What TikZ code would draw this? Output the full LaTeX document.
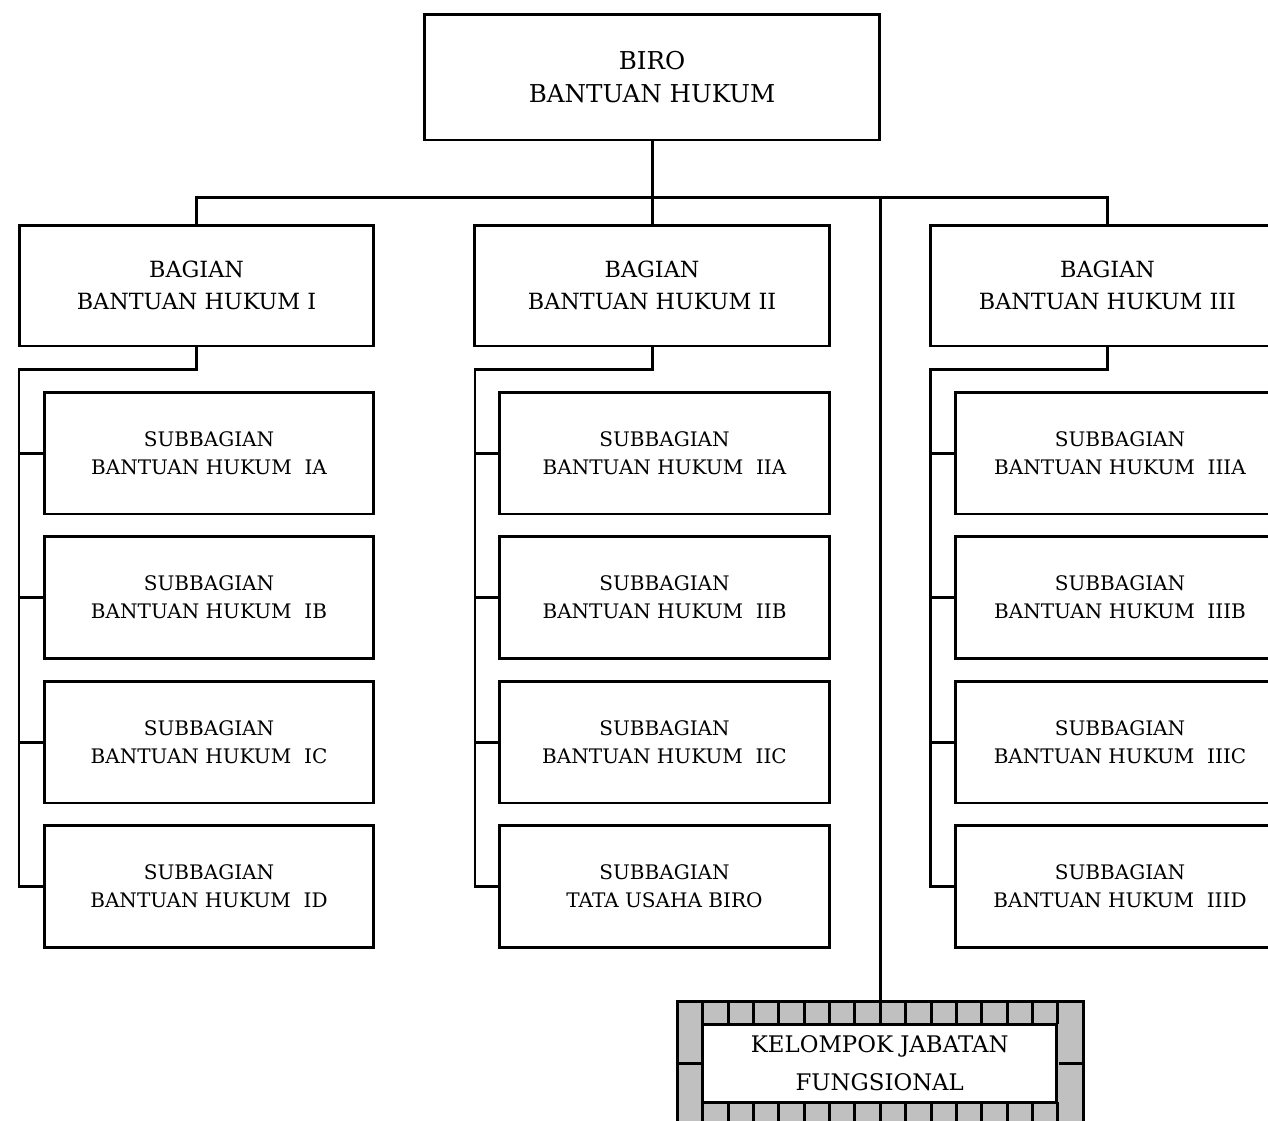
\documentclass[tikz,border=0pt]{standalone}
\usepackage{fontspec}
\setmainfont{DejaVu Serif}
\definecolor{bata}{HTML}{C0C0C0}
\tikzset{
  unitbox/.style={draw, line width=1.7pt, fill=white, align=center, inner sep=0pt},
  birobox/.style={unitbox, minimum width=9.1cm, minimum height=2.52cm, font=\fontsize{14}{18.8}\selectfont},
  bagbox/.style={unitbox, minimum width=7.1cm, minimum height=2.42cm, font=\fontsize{12.7}{18.2}\selectfont},
  subbox/.style={unitbox, minimum width=6.6cm, minimum height=2.44cm, font=\fontsize{11.4}{15.9}\selectfont},
  jabfrm/.style={draw, line width=1.7pt, fill=bata, minimum width=8.12cm, minimum height=2.48cm, inner sep=0pt},
  jabbox/.style={unitbox, minimum width=7.08cm, minimum height=1.56cm, font=\fontsize{13}{21.6}\selectfont},
  link/.style={line width=1.7pt}
}

\begin{document}
\begin{tikzpicture}[x=0.02cm,y=-0.02cm]
	%%%%% START %%%%%
	\useasboundingbox (0,0) rectangle (1268,1120);

	\node[birobox] (biro) at (652,77) {BIRO\\BANTUAN HUKUM};

	\node[bagbox] (bagA) at (196.5,285.5) {BAGIAN\\BANTUAN HUKUM I};
	\node[bagbox] (bagB) at (652,285.5) {BAGIAN\\BANTUAN HUKUM II};
	\node[bagbox] (bagC) at (1107.5,285.5) {BAGIAN\\BANTUAN HUKUM III};

	\coordinate (bus) at (652,197);
	\draw[link] (biro.south) -- (bus);
	\draw[link] (bagA.north) |- (bus) -| (bagC.north);
	\draw[link] (bus) -- (bagB.north);

	% column I
	\node[subbox] (subAa) at (209,453) {SUBBAGIAN\\BANTUAN HUKUM\ \ IA};
	\node[subbox] (subAb) at (209,597.5) {SUBBAGIAN\\BANTUAN HUKUM\ \ IB};
	\node[subbox] (subAc) at (209,742) {SUBBAGIAN\\BANTUAN HUKUM\ \ IC};
	\node[subbox] (subAd) at (209,886.5) {SUBBAGIAN\\BANTUAN HUKUM\ \ ID};
	\coordinate (spineA) at (19,369);
	\draw[link] (bagA.south) |- (spineA) |- (subAd.west);
	\draw[link] (spineA |- subAa.west) -- (subAa.west);
	\draw[link] (spineA |- subAb.west) -- (subAb.west);
	\draw[link] (spineA |- subAc.west) -- (subAc.west);

	% column II
	\node[subbox] (subBa) at (664.5,453) {SUBBAGIAN\\BANTUAN HUKUM\ \ IIA};
	\node[subbox] (subBb) at (664.5,597.5) {SUBBAGIAN\\BANTUAN HUKUM\ \ IIB};
	\node[subbox] (subBc) at (664.5,742) {SUBBAGIAN\\BANTUAN HUKUM\ \ IIC};
	\node[subbox] (subBd) at (664.5,886.5) {SUBBAGIAN\\TATA USAHA BIRO};
	\coordinate (spineB) at (475,369);
	\draw[link] (bagB.south) |- (spineB) |- (subBd.west);
	\draw[link] (spineB |- subBa.west) -- (subBa.west);
	\draw[link] (spineB |- subBb.west) -- (subBb.west);
	\draw[link] (spineB |- subBc.west) -- (subBc.west);

	% column III
	\node[subbox] (subCa) at (1120,453) {SUBBAGIAN\\BANTUAN HUKUM\ \ IIIA};
	\node[subbox] (subCb) at (1120,597.5) {SUBBAGIAN\\BANTUAN HUKUM\ \ IIIB};
	\node[subbox] (subCc) at (1120,742) {SUBBAGIAN\\BANTUAN HUKUM\ \ IIIC};
	\node[subbox] (subCd) at (1120,886.5) {SUBBAGIAN\\BANTUAN HUKUM\ \ IIID};
	\coordinate (spineC) at (930,369);
	\draw[link] (bagC.south) |- (spineC) |- (subCd.west);
	\draw[link] (spineC |- subCa.west) -- (subCa.west);
	\draw[link] (spineC |- subCb.west) -- (subCb.west);
	\draw[link] (spineC |- subCc.west) -- (subCc.west);

	% kelompok jabatan fungsional
	\node[jabfrm] (jabfrm) at (880.3,1063) {};
	\foreach \k in {1,...,15} {
		\draw[line width=1.7pt] (677.3+25.375*\k,1001) -- ++(0,23);
		\draw[line width=1.7pt] (677.3+25.375*\k,1102) -- ++(0,30);
	}
	\draw[line width=1.7pt] (jabfrm.west) -- ++(26,0);
	\draw[line width=1.7pt] (jabfrm.east) -- ++(-26,0);
	\node[jabbox] (jab) at (879.7,1063) {KELOMPOK JABATAN\\FUNGSIONAL};
	\draw[link] (bus -| jabfrm.north) -- (jabfrm.north);

	%%%%% END %%%%%
\end{tikzpicture}
\end{document}
